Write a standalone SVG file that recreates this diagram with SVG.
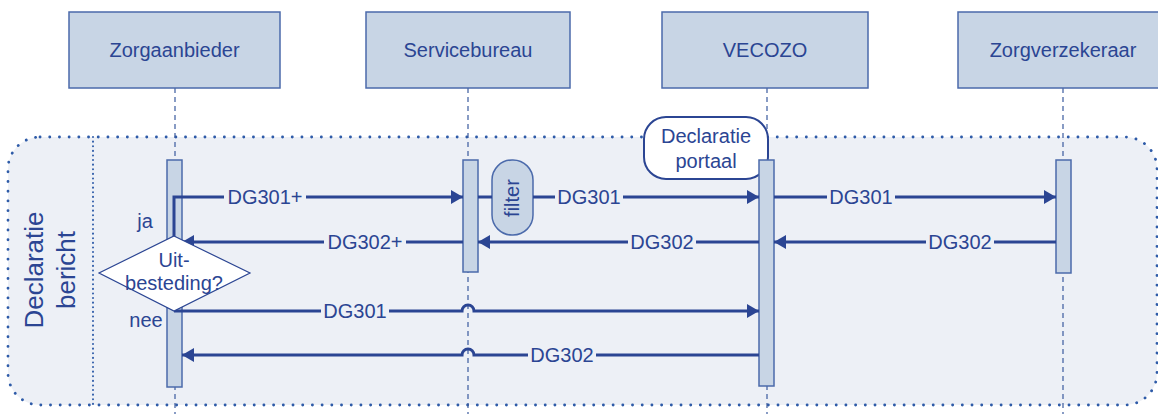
<svg xmlns="http://www.w3.org/2000/svg" width="1158" height="414" viewBox="0 0 1158 414">
<defs>
<marker id="ah" viewBox="0 0 12 14" refX="12" refY="7" markerWidth="12" markerHeight="14" markerUnits="userSpaceOnUse" orient="auto">
<path d="M0,0 L12,7 L0,14 Z" fill="#2B4593"/>
</marker>
<style>
text{font-family:"Liberation Sans",Arial,sans-serif;fill:#2B4593}
.hdr{fill:#C8D5E5;stroke:#4B6AAB;stroke-width:1.5}
.bar{fill:#C8D5E5;stroke:#4B6AAB;stroke-width:1.5}
.life{stroke:#3A5A9E;stroke-width:1.2;stroke-dasharray:5,4;fill:none}
.msg{stroke:#2B4593;stroke-width:3;fill:none}
.lbl{font-size:20px;text-anchor:middle}
.lblbg{fill:#EDF0F6}
.t20{font-size:20px;text-anchor:middle}
</style>
</defs>
<rect width="1158" height="414" fill="#FFFFFF"/>
<g id="frame">
<rect x="8" y="137" width="1149" height="268" rx="32" fill="#EDF0F6" stroke="#2E5BA8" stroke-width="2.8" stroke-dasharray="0.1,9.6" stroke-linecap="round"/>
<line x1="93" y1="137" x2="93" y2="405" stroke="#2E5BA8" stroke-width="2" stroke-dasharray="0.1,4.5" stroke-linecap="round"/>
<text transform="translate(43,270) rotate(-90)" font-size="26" text-anchor="middle">Declaratie</text>
<text transform="translate(75,270) rotate(-90)" font-size="26" text-anchor="middle">bericht</text>
</g>
<g id="lifelines">
<line class="life" x1="175" y1="88" x2="175" y2="414"/>
<line class="life" x1="468" y1="88" x2="468" y2="414"/>
<line class="life" x1="767" y1="88" x2="767" y2="414"/>
<line class="life" x1="1063" y1="88" x2="1063" y2="414"/>
</g>
<g id="zorgaanbieder"><rect class="hdr" x="69" y="12" width="211" height="76"/><text class="t20" x="174.5" y="57">Zorgaanbieder</text></g>
<g id="servicebureau"><rect class="hdr" x="366" y="12" width="204" height="76"/><text class="t20" x="468" y="57">Servicebureau</text></g>
<g id="vecozo"><rect class="hdr" x="662" y="12" width="206" height="76"/><text class="t20" x="765" y="57">VECOZO</text></g>
<g id="zorgverzekeraar"><rect class="hdr" x="958" y="12" width="210" height="76"/><text class="t20" x="1063" y="57">Zorgverzekeraar</text></g>
<g id="declaratieportaal"><rect x="644" y="117" width="124" height="62" rx="22" fill="#FFFFFF" stroke="#2B4593" stroke-width="2"/><text class="t20" x="706" y="143">Declaratie</text><text class="t20" x="706" y="168">portaal</text></g>
<g id="bars">
<rect class="bar" x="167" y="160" width="15" height="227"/>
<rect class="bar" x="463" y="160" width="15" height="112"/>
<rect class="bar" x="759" y="160" width="15" height="226"/>
<rect class="bar" x="1056" y="160" width="15" height="113"/>
</g>
<g id="filter"><rect x="492" y="160" width="41" height="75" rx="20" fill="#C8D5E5" stroke="#4B6AAB" stroke-width="1.5"/><text transform="translate(519,198) rotate(-90)" font-size="20" text-anchor="middle">filter</text></g>
<g id="connectors">
<path class="msg" d="M174,237 V197 H463" marker-end="url(#ah)"/>
<path class="msg" d="M463,242 H182" marker-end="url(#ah)"/>
<path class="msg" d="M478,197 H492 M533,197 H759" marker-end="url(#ah)"/>
<path class="msg" d="M759,242 H478" marker-end="url(#ah)"/>
<path class="msg" d="M774,197 H1056" marker-end="url(#ah)"/>
<path class="msg" d="M1056,242 H774" marker-end="url(#ah)"/>
<path class="msg" d="M174,311 H462 A6,6 0 0 1 474,311 H759" marker-end="url(#ah)"/>
<path class="msg" d="M759,355 H474 A6,6 0 0 0 462,355 H182" marker-end="url(#ah)"/>
</g>
<g id="labels">
<rect class="lblbg" x="224" y="186" width="82" height="22"/><text class="lbl" x="265" y="204">DG301+</text>
<rect class="lblbg" x="324" y="231" width="82" height="22"/><text class="lbl" x="365" y="249">DG302+</text>
<rect class="lblbg" x="555" y="186" width="68" height="22"/><text class="lbl" x="589" y="204">DG301</text>
<rect class="lblbg" x="628" y="231" width="68" height="22"/><text class="lbl" x="662" y="249">DG302</text>
<rect class="lblbg" x="827" y="186" width="68" height="22"/><text class="lbl" x="861" y="204">DG301</text>
<rect class="lblbg" x="926" y="231" width="68" height="22"/><text class="lbl" x="960" y="249">DG302</text>
<rect class="lblbg" x="321" y="300" width="68" height="22"/><text class="lbl" x="355" y="318">DG301</text>
<rect class="lblbg" x="528" y="344" width="68" height="22"/><text class="lbl" x="562" y="362">DG302</text>
</g>
<g id="beslissing">
<polygon points="174,236 250,273 174,311 99,273" fill="#FFFFFF" stroke="#2B4593" stroke-width="1.2"/>
<text class="t20" x="174" y="267">Uit-</text>
<text class="t20" x="174" y="290">besteding?</text>
<text class="t20" x="145" y="228">ja</text>
<text class="t20" x="146" y="327">nee</text>
</g>
</svg>
